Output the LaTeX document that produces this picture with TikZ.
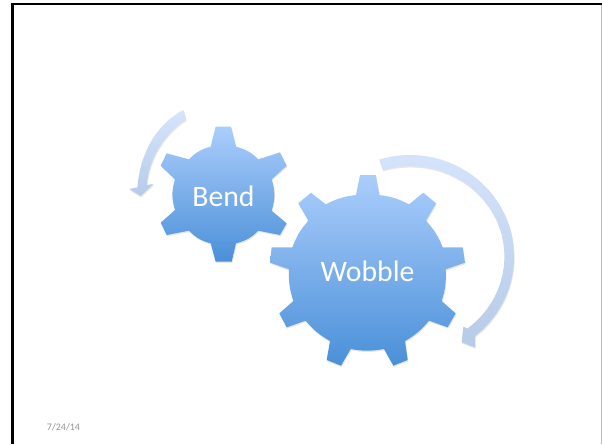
\documentclass[tikz,border=0pt]{standalone}
\usepackage{fontspec}
\setmainfont{Carlito}
\definecolor{geartop}{HTML}{ABCDFC}
\definecolor{gearbot}{HTML}{4A90D8}
\definecolor{arrowtop}{HTML}{D6E5FC}
\definecolor{arrowbot}{HTML}{B6CBE8}
\tikzset{
  gearfill/.style={top color=geartop,bottom color=gearbot,draw=none},
  arrowfill/.style={top color=arrowtop,bottom color=arrowbot,draw=none},
  shade1/.style={fill=black!60,opacity=0.16,draw=none},
  bigtext/.style={text=white,font=\fontsize{22.3}{26}\selectfont,inner sep=0pt},
  frameline/.style={line width=1.5pt}
}
\newcommand{\bendgear}{(287,80) -- (333,80) -- (348,140) to[bend left=15] (415,178) -- (480,157) -- (500,197) -- (455,238) to[bend left=17] (455,332) -- (500,370) -- (480,405) -- (415,392) to[bend left=15] (348,430) -- (335,485) -- (287,485) -- (272,430) to[bend left=15] (207,392) -- (140,405) -- (122,368) -- (165,330) to[bend left=17] (165,238) -- (122,197) -- (140,160) -- (207,178) to[bend left=15] (272,140) -- cycle}
\newcommand{\wobblegear}{(300,105) -- (347,105) -- (358,165) to[bend left=10] (447,193) -- (490,158) -- (528,190) -- (498,242) to[bend left=10] (548,322) -- (608,322) -- (615,368) -- (557,388) to[bend left=10] (545,483) -- (587,520) -- (563,562) -- (507,542) to[bend left=10] (435,603) -- (443,660) -- (400,677) -- (372,627) to[bend left=10] (272,627) -- (243,677) -- (200,660) -- (210,603) to[bend left=10] (137,542) -- (80,562) -- (58,520) -- (100,483) to[bend left=10] (87,388) -- (30,368) -- (35,322) -- (97,322) to[bend left=10] (145,242) -- (115,190) -- (153,158) -- (197,193) to[bend left=10] (288,165) -- cycle}
\newcommand{\bendarrow}{(190,30) .. controls (115,70) and (62,150) .. (52,262) -- (28,267) -- (62,288) -- (100,252) -- (80,255) .. controls (88,170) and (135,100) .. (198,58) -- cycle}
\newcommand{\bigarrow}{(358,58.6) arc[start angle=-107.15,end angle=51.3,x radius=312,y radius=305] -- (645,622) -- (605,607) -- (610,560) -- (622,565.7) arc[start angle=52.6,end angle=-106.8,x radius=283,y radius=271.6] -- cycle}
\begin{document}
\begin{tikzpicture}[x=0.75pt,y=-0.75pt]
\useasboundingbox (0,0) rectangle (602,444);
\fill[white] (0,0) rectangle (602,444);
\coordinate (tl) at (11,4.3);
\coordinate (tr) at (602,4.3);
\coordinate (ltop) at (12.6,3.3);
\coordinate (bl) at (12.6,444);
\coordinate (rt) at (601.3,5);
\coordinate (rb) at (601.3,444);
\draw[frameline,black] (tl) -- (tr);
\draw[line width=2pt,black] (ltop) -- (bl);
\draw[line width=1pt,black!28] (rt) -- (rb);
\begin{scope}[shift={(120,100)},x=0.25pt,y=-0.25pt]
\path[shade1,shift={(2,4)}] \bendarrow;
\path[arrowfill] \bendarrow;
\path[shade1,shift={(2,4)}] \bendgear;
\path[gearfill] \bendgear;
\end{scope}
\begin{scope}[shift={(260,140)},x=0.25pt,y=-0.25pt]
\path[shade1,shift={(2,4)}] \bigarrow;
\path[arrowfill] \bigarrow;
\path[shade1,shift={(2,4)}] \wobblegear;
\path[gearfill] \wobblegear;
\end{scope}
\node[bigtext] (bend) at (223.5,196) {Bend};
\node[bigtext] (wobble) at (367.5,271) {Wobble};
\node[text=black!42,font=\fontsize{7.5}{9}\selectfont,inner sep=0pt] (date) at (63.5,427) {7/24/14};
\end{tikzpicture}
\end{document}
